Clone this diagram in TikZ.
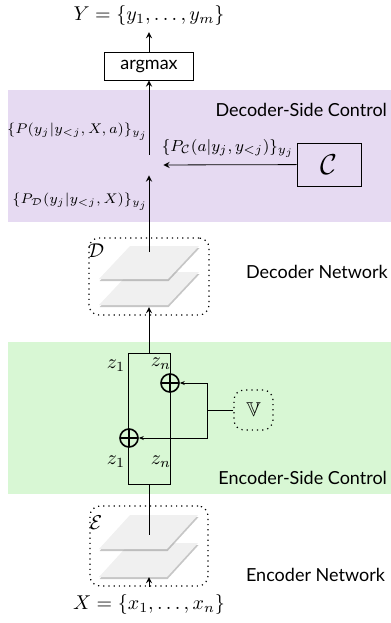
\documentclass[tikz,border=0pt]{standalone}
\usepackage{amssymb}
\usepackage{amsmath}
\usepackage{fontspec}
\setsansfont{Lato}
\usetikzlibrary{calc, arrows.meta, positioning, shadows}
\definecolor{decband}{RGB}{230,218,242}
\definecolor{encband}{RGB}{216,247,212}

\begin{document}
\begin{tikzpicture}[x=0.5pt, y=-0.5pt, >=stealth, every node/.style={font=\sffamily\small},
  opbox/.style={draw, minimum width=44.5pt, minimum height=14pt},
  netbox/.style={draw, dotted, semithick, rounded corners=5pt, inner sep=0pt},
  prob/.style={font=\fontsize{7.5}{9}\selectfont},
  layer/.style={fill=gray!12, drop shadow={shadow xshift=0.3pt, shadow yshift=-1pt, opacity=0.45}},
  tinyarrow/.style={-{Stealth[length=2.5pt, width=2pt]}},
  plus/.style={circle, draw, thick, minimum size=9pt, inner sep=0pt,
    path picture={\draw[thick] (path picture bounding box.north) -- (path picture bounding box.south)
      (path picture bounding box.west) -- (path picture bounding box.east);}}]
\useasboundingbox (0,0) rectangle (391,623);

% Bands
\fill[decband] (8,90) rectangle (391,222);
\fill[encband] (8,342) rectangle (391,494);

% Decoder side
\node[font=\normalsize] (ylbl) at (149,15) {$Y=\{y_1,\ldots,y_m\}$};
\node[opbox] (argmax) at (149,66) {argmax};
\node[anchor=east] (dectitle) at (394,110) {Decoder-Side Control};
\node[minimum width=14pt, minimum height=10pt, inner sep=0pt] (mix) at (149,165) {};
\node[opbox, minimum width=32pt, minimum height=21.5pt, font=\Large] (ctrl) at (329,164.5) {$\mathcal{C}$};
\node[prob, anchor=east] (pmix) at (155,132) {$\{P(y_j|y_{<j},X,a)\}_{y_j}$};
\node[prob, anchor=east] (pdec) at (155,202) {$\{P_{\mathcal{D}}(y_j|y_{<j},X)\}_{y_j}$};

\draw[->] (argmax) -- (ylbl);
\draw[->] (mix) -- (argmax);
\draw[->] (ctrl) -- node[font=\footnotesize, above, xshift=-1pt]{$\{P_{\mathcal{C}}(a|y_j,y_{<j})\}_{y_j}$} (mix);

% Decoder network
\node[netbox, minimum width=60pt, minimum height=38.5pt] (dec) at (149,276.5) {};
\node[font=\normalsize] (declbl) at (96,251) {$\mathcal{D}$};
\foreach \dy in {26,0}
  \fill[layer] (99,279+\dy) -- ++(69,0) -- ++(31,-33) -- ++(-69,0) -- cycle;
\node[anchor=west] (decname) at (239,272) {Decoder Network};
\coordinate (decin) at (149,252);
\coordinate (decbot) at (149,307);
\draw[->] (decin) -- (mix);

% Encoder side
\node[draw, minimum width=21pt, minimum height=65.5pt, inner sep=0pt] (zbox) at (149,418.5) {};
\node[font=\normalsize] (z1t) at (116,366) {$z_1$};
\node[font=\normalsize] (znt) at (161,364) {$z_n$};
\node[font=\normalsize] (z1b) at (116,462) {$z_1$};
\node[font=\normalsize] (znb) at (161,462) {$z_n$};
\node[plus] (addn) at (170,383) {};
\node[plus] (add1) at (129,438) {};
\node[netbox, minimum width=19.5pt, minimum height=20pt, font=\normalsize] (vbox) at (253.5,410) {$\mathbb{V}$};
\coordinate (split) at (207,410);
\node[anchor=east] (enctitle) at (394,478) {Encoder-Side Control};

\draw[->] (zbox) -- (decbot);
\draw (vbox) -- (split);
\draw[tinyarrow] (split) |- (addn);
\draw[tinyarrow] (split) |- (add1);

% Encoder network
\node[netbox, minimum width=59pt, minimum height=40pt] (enc) at (149,546) {};
\node[font=\normalsize] (enclbl) at (96,523) {$\mathcal{E}$};
\foreach \dy in {28,0}
  \fill[layer] (99,549+\dy) -- ++(68,0) -- ++(31,-34) -- ++(-68,0) -- cycle;
\node[anchor=west] (encname) at (239,575) {Encoder Network};
\coordinate (encin) at (149,535);
\coordinate (encbot) at (149,577);
\node[font=\normalsize] (xlbl) at (149,604) {$X=\{x_1,\ldots,x_n\}$};

\draw (zbox) -- (encin);
\draw[->] (xlbl) -- (encbot);
\end{tikzpicture}
\end{document}
